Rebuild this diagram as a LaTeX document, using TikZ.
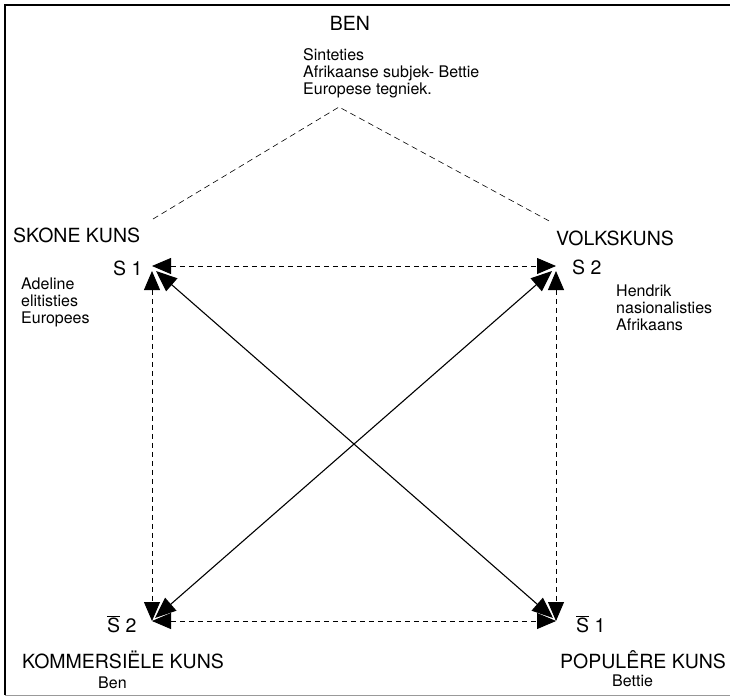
\documentclass[tikz,border=0pt]{standalone}
\usepackage{fontspec}
\setmainfont{TeX Gyre Heros}
\usetikzlibrary{arrows.meta,positioning}
\tikzset{
  hd/.style={font=\fontsize{19.5}{19.5}\selectfont,anchor=base west,inner sep=0pt},
  sub/.style={font=\fontsize{16}{17}\selectfont,anchor=base west,inner sep=0pt,align=left},
  opp/.style={{Triangle[length=19pt,width=16pt]}-{Triangle[length=19pt,width=16pt]},
              line width=0.8pt,dash pattern=on 5pt off 4pt},
  diag/.style={{Triangle[length=21pt,width=17pt]}-{Triangle[length=21pt,width=17pt]},
              line width=1.1pt},
  synth/.style={line width=0.6pt,dash pattern=on 6pt off 4pt},
}

\begin{document}
\begin{tikzpicture}[x=1pt,y=-1pt]
  \useasboundingbox (0,0) rectangle (730,699);

  % ---------- frame ----------
  \draw[line width=1.6pt] (730,5) -- (5,5) -- (5,695);
  \draw[line width=1pt,black!40] (5,695) -- (730,695);

  % ---------- synthesis (top) ----------
  \node[hd,anchor=base] (ben) at (350,30) {BEN};
  \node[sub,anchor=north west] (sint) at (303,48)
    {Sinteties\\Afrikaanse subjek- Bettie\\Europese tegniek.};
  \coordinate (apex) at (339,107);
  \coordinate (lend) at (153,219);
  \coordinate (rend) at (551,222);
  \draw[synth] (lend) -- (apex) -- (rend);

  % ---------- square corners ----------
  \coordinate (c1) at (152,266);
  \coordinate (c2) at (556,266);
  \coordinate (c3) at (152,621);
  \coordinate (c4) at (556,621);

  % ---------- corner labels ----------
  \node[hd] (skone) at (13,242) {SKONE KUNS};
  \node[hd] (s1) at (113,275) {S 1};
  \node[sub,anchor=north west] (adel) at (21,278) {Adeline\\elitisties\\Europees};

  \node[hd] (volk) at (556,245) {VOLKSKUNS};
  \node[hd] (s2) at (572,274) {S 2};
  \node[sub,anchor=north west] (hend) at (616,285) {Hendrik\\nasionalisties\\Afrikaans};

  \node[hd] (nots2) at (107,632) {$\overline{\mbox{S}}$ 2};
  \node[hd] (komm) at (22,668) {KOMMERSIËLE KUNS};
  \node[sub] (kben) at (98,688) {Ben};

  \node[hd] (nots1) at (576,632) {$\overline{\mbox{S}}$ 1};
  \node[hd] (popu) at (560,668) {POPULÊRE KUNS};
  \node[sub] (pbet) at (612,686) {Bettie};

  % ---------- opposition / contradiction arrows ----------
  \draw[opp] (c1) -- (c2);
  \draw[opp] (c3) -- (c4);
  \draw[opp] ([shift={(0,5)}]c1) -- (c3);
  \draw[opp] ([shift={(0,5)}]c2) -- (c4);
  \draw[diag] ([shift={(4,5)}]c1) -- ([shift={(-3,-3)}]c4);
  \draw[diag] ([shift={(-4,5)}]c2) -- ([shift={(3,-3)}]c3);
\end{tikzpicture}
\end{document}
